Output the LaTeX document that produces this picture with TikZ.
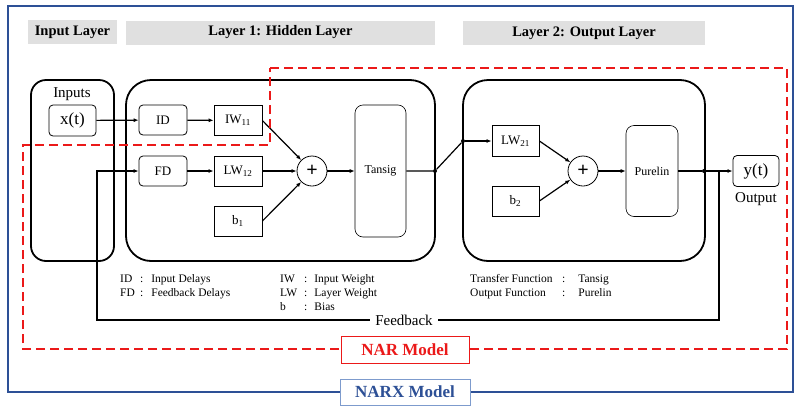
\documentclass[tikz,border=0pt]{standalone}
\usepackage{fontspec}
\setmainfont{Liberation Serif}
\usetikzlibrary{arrows.meta}
\definecolor{narxblue}{RGB}{45,80,150}
\definecolor{narxedge}{RGB}{125,155,205}
\definecolor{narred}{RGB}{235,25,25}

\begin{document}
\begin{tikzpicture}[x=1pt,y=-1pt,>={Latex[length=5pt,width=4pt]},
  layer/.style={draw, line width=1.8pt},
  head/.style={fill=black!12, inner sep=0pt, minimum height=24pt, font=\fontsize{14.5}{16}\selectfont\bfseries},
  unit/.style={draw, line width=0.8pt, inner sep=0pt, minimum width=48pt, minimum height=30pt, font=\fontsize{13}{15}\selectfont},
  delay/.style={unit, rounded corners=4pt},
  func/.style={draw, line width=0.6pt, rounded corners=8pt, inner sep=0pt, minimum width=51pt, font=\fontsize{12}{14}\selectfont},
  sum/.style={circle, draw, line width=0.8pt, minimum size=30pt, inner sep=0pt, font=\fontsize{20}{20}\selectfont\bfseries},
  conn/.style={line width=1.2pt},
  dot/.style={circle, fill, inner sep=0pt, minimum size=4pt},
  legend/.style={anchor=north west, inner sep=0pt, font=\fontsize{11.5}{14}\selectfont},
  txt/.style={inner sep=1pt, font=\fontsize{15}{17}\selectfont}]
 \useasboundingbox (0,0) rectangle (796,405);
 \draw[narxblue, line width=2.4pt] (8,6) rectangle (793,392);
 \node[head, minimum width=89pt] (hin) at (72.5,32) {Input Layer};
 \node[head, minimum width=309pt] (hhid) at (280.5,32.5) {Layer 1: Hidden Layer};
 \node[head, minimum width=242pt] (hout) at (584,33) {Layer 2: Output Layer};
 \draw[layer, rounded corners=15pt] (31,80) rectangle (114,261);
 \draw[layer, rounded corners=25pt] (126,80) rectangle (435,261);
 \draw[layer, rounded corners=25pt] (463,80) rectangle (705,261);
 \node[txt] (inputs) at (72,94) {Inputs};
 \node[delay, minimum width=47pt, minimum height=31pt, font=\fontsize{17}{19}\selectfont] (xt) at (72.5,120.5) {x(t)};
 \node[delay] (ID) at (163,120) {ID};
 \node[unit] (IW) at (238,120.5) {IW\textsubscript{11}};
 \node[delay] (FD) at (163,171) {FD};
 \node[unit] (LW12) at (238,171) {LW\textsubscript{12}};
 \node[unit] (b1) at (238,221) {b\textsubscript{1}};
 \node[sum] (sum1) at (312,171) {+};
 \node[func, minimum height=132pt] (tansig) at (380.5,171) {Tansig};
 \node[dot] (j1) at (435,171) {};
 \node[dot] (j2) at (463,141) {};
 \node[unit, minimum width=47pt, minimum height=31pt] (LW21) at (515.5,141) {LW\textsubscript{21}};
 \node[unit, minimum width=47pt] (b2) at (515.5,201) {b\textsubscript{2}};
 \node[sum] (sum2) at (583,171) {+};
 \node[func, minimum width=52pt, minimum height=91pt] (purelin) at (652,171) {Purelin};
 \node[dot] (j3) at (704,171) {};
 \coordinate (fb) at (719,171);
 \coordinate (fbl) at (97,320);
 \node[delay, minimum width=46pt, minimum height=31pt, font=\fontsize{17}{19}\selectfont] (yt) at (756,171) {y(t)};
 \node[txt] (output) at (756,199) {Output};
 \draw[conn,->] (xt) -- (ID);
 \draw[conn,->] (ID) -- (IW);
 \draw[conn,->] (IW.east) -- (sum1);
 \draw[conn,->] (FD) -- (LW12);
 \draw[conn,->] (LW12) -- (sum1);
 \draw[conn,->] (b1.east) -- (sum1);
 \draw[conn,->] (sum1) -- (tansig);
 \draw[conn] (tansig) -- (j1) -- (j2);
 \draw[conn,->] (j2) -- (LW21);
 \draw[conn,->] (LW21.east) -- (sum2);
 \draw[conn,->] (b2.east) -- (sum2);
 \draw[conn,->] (sum2) -- (purelin);
 \draw[conn] (purelin) -- (j3);
 \draw[conn,->] (j3) -- (yt);
 \draw[conn,->] (fb) |- (fbl) |- (FD);
 \node[txt, fill=white, inner xsep=5pt] (fbtext) at (404,320) {Feedback};
 \node[legend] (leg1) at (120,272) {\begin{tabular}{@{}p{20pt}@{:\hspace{8pt}}l@{}}ID & Input Delays\\FD & Feedback Delays\end{tabular}};
 \node[legend] (leg2) at (280,272) {\begin{tabular}{@{}p{24pt}@{:\hspace{7pt}}l@{}}IW & Input Weight\\LW & Layer Weight\\b & Bias\end{tabular}};
 \node[legend] (leg3) at (470,272) {\begin{tabular}{@{}p{92pt}@{:\hspace{13pt}}l@{}}Transfer Function & Tansig\\Output Function & Purelin\end{tabular}};
 \draw[narred, line width=2.2pt, dash pattern=on 9pt off 5pt] (270,68) -- (787,68) -- (787,349) -- (23,349) -- (23,145) -- (270,145) -- cycle;
 \node[draw=narred, fill=white, line width=0.6pt, minimum width=128pt, minimum height=27pt, text=narred, font=\fontsize{17}{19}\selectfont\bfseries] (nar) at (405,349.5) {NAR Model};
 \node[draw=narxedge, fill=white, line width=0.6pt, minimum width=130pt, minimum height=26pt, text=narxblue, font=\fontsize{17}{19}\selectfont\bfseries] (narx) at (405,392) {NARX Model};
\end{tikzpicture}
\end{document}
